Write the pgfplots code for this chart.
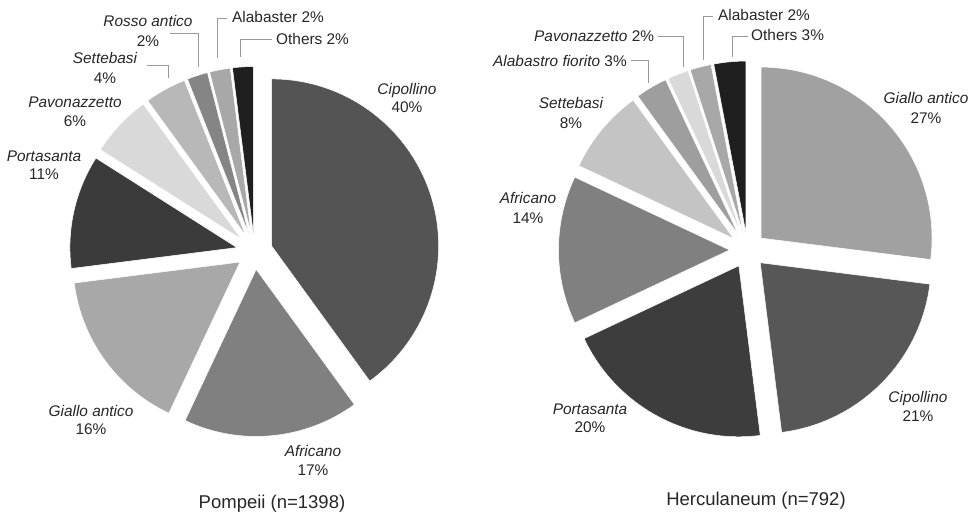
\documentclass[border=0pt]{standalone}
\usepackage{pgfplots}
\usepackage{pgfplotstable}
\pgfplotsset{compat=1.18}
\usepackage{fontspec}
\setmainfont{Liberation Sans}

% share (%) and grey level of each slice, clockwise from 12 o'clock
\pgfplotstableread{
value gray
40 0.33
17 0.50
16 0.66
11 0.23
6  0.85
4  0.72
2  0.52
2  0.66
2  0.12
}\pompeii
\pgfplotstableread{
value gray
27 0.63
21 0.34
20 0.24
14 0.50
8  0.77
3  0.62
2  0.85
2  0.66
3  0.12
}\herculaneum

\newcommand\drawpie[5]{% table, cx, cy, R, explode
  \pgfplotstablegetrowsof{#1}\pgfmathtruncatemacro\lastrow{\pgfplotsretval-1}%
  \gdef\curang{90}%
  \foreach \i in {0,...,\lastrow}{%
    \pgfplotstablegetelem{\i}{value}\of{#1}\let\v\pgfplotsretval
    \pgfplotstablegetelem{\i}{gray}\of{#1}\let\g\pgfplotsretval
    \pgfmathsetmacro\st{\curang}%
    \pgfmathsetmacro\en{\curang-3.6*\v}%
    \pgfmathsetmacro\md{(\st+\en)/2}%
    \definecolor{wc}{gray}{\g}%
    \path (axis cs:#2,#3) ++(\md:#5pt) coordinate (apex);
    \fill[wc, draw=white, line width=0.5pt] (apex) -- ++(\st:#4pt) arc[start angle=\st, end angle=\en, radius=#4pt] -- cycle;
    \xdef\curang{\en}%
  }%
}

\begin{document}
\begin{tikzpicture}
\begin{axis}[x=1pt, y=1pt, xmin=0, xmax=972, ymin=0, ymax=514, y dir=reverse,
  hide axis, scale only axis, clip=false]
\pgfplotsextra{
  \path (axis cs:0,0) rectangle (axis cs:972,514);
  \drawpie{\pompeii}{254.5}{251.5}{167}{18}
  \drawpie{\herculaneum}{747.5}{250}{171}{18}
}
\pgfplotsextra{
\begingroup
\fontsize{15.4}{18}\selectfont
\tikzset{lab/.style={anchor=base, inner sep=0pt, text=black!85}, labw/.style={anchor=base west, inner sep=0pt, text=black!85}}
% Pompeii labels
\node[lab] at (axis cs:407,94) {\itshape Cipollino};
\node[lab] at (axis cs:407,112) {40\%};
\node[lab] at (axis cs:313,456) {\itshape Africano};
\node[lab] at (axis cs:313,475) {17\%};
\node[lab] at (axis cs:91,416) {\itshape Giallo antico};
\node[lab] at (axis cs:91,434) {16\%};
\node[lab] at (axis cs:44,161) {\itshape Portasanta};
\node[lab] at (axis cs:44,179) {11\%};
\node[lab] at (axis cs:75,107) {\itshape Pavonazzetto};
\node[lab] at (axis cs:75,126) {6\%};
\node[lab] at (axis cs:105,63) {\itshape Settebasi};
\node[lab] at (axis cs:105,83) {4\%};
\node[lab] at (axis cs:148,27) {\itshape Rosso antico};
\node[lab] at (axis cs:148,46) {2\%};
\node[labw] at (axis cs:232,23) {Alabaster 2\%};
\node[labw] at (axis cs:276,44) {Others 2\%};
\draw[gray!80, line width=0.8pt] (axis cs:170,33) -- (axis cs:198,33) -- (axis cs:198,67);
\draw[gray!80, line width=0.8pt] (axis cs:147,65) -- (axis cs:168,65) -- (axis cs:168,78);
\draw[gray!80, line width=0.8pt] (axis cs:227,18) -- (axis cs:217,18) -- (axis cs:217,58);
\draw[gray!80, line width=0.8pt] (axis cs:272,39) -- (axis cs:240,39) -- (axis cs:240,57);
% Herculaneum labels
\node[lab] at (axis cs:926,103) {\itshape Giallo antico};
\node[lab] at (axis cs:926,123) {27\%};
\node[lab] at (axis cs:918,402) {\itshape Cipollino};
\node[lab] at (axis cs:918,421) {21\%};
\node[lab] at (axis cs:590,414) {\itshape Portasanta};
\node[lab] at (axis cs:590,432) {20\%};
\node[lab] at (axis cs:528,203) {\itshape Africano};
\node[lab] at (axis cs:528,223) {14\%};
\node[lab] at (axis cs:571,108) {\itshape Settebasi};
\node[lab] at (axis cs:571,128) {8\%};
\node[labw] at (axis cs:493,66) {\itshape Alabastro fiorito\upshape\ 3\%};
\node[labw] at (axis cs:534,41) {\itshape Pavonazzetto\upshape\ 2\%};
\node[labw] at (axis cs:718,20) {Alabaster 2\%};
\node[labw] at (axis cs:751,40) {Others 3\%};
\draw[gray!80, line width=0.8pt] (axis cs:631,60) -- (axis cs:648,60) -- (axis cs:648,83);
\draw[gray!80, line width=0.8pt] (axis cs:658,36) -- (axis cs:683,36) -- (axis cs:683,67);
\draw[gray!80, line width=0.8pt] (axis cs:713,16) -- (axis cs:703,16) -- (axis cs:703,60);
\draw[gray!80, line width=0.8pt] (axis cs:748,36) -- (axis cs:732,36) -- (axis cs:732,57);
\fontsize{18.5}{22}\selectfont
\node[lab] at (axis cs:272,508) {Pompeii (n=1398)};
\node[lab] at (axis cs:756,505) {Herculaneum (n=792)};
\endgroup
}
\end{axis}
\end{tikzpicture}
\end{document}
